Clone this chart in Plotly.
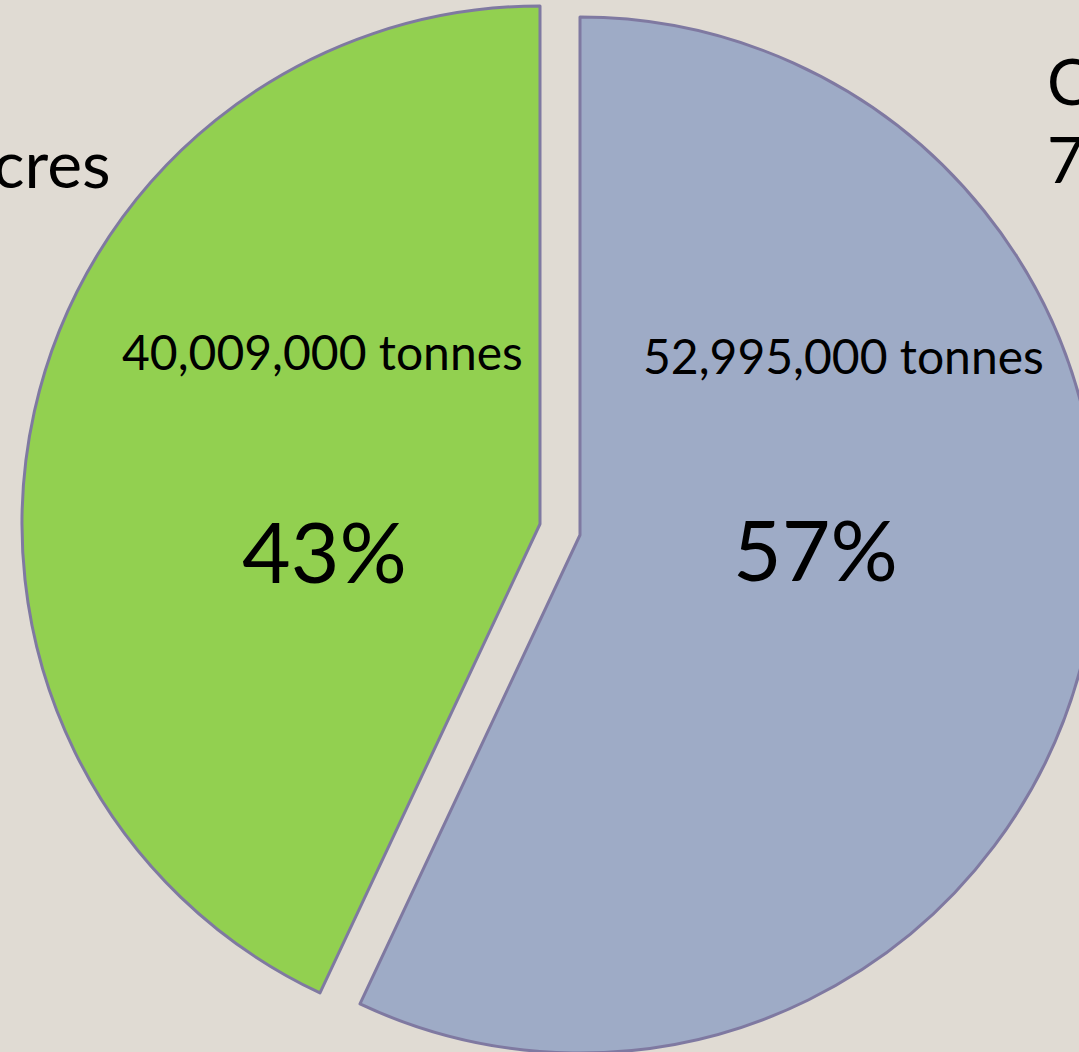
import plotly.graph_objects as go

# ── Data ──────────────────────────────────────────────────────────────────────
labels = ["Blue share", "Green share"]
values = [52995000, 40009000]
unit = "tonnes"
edge_labels_left = ["cres"]
edge_labels_right = ["C", "7"]

# ── Style ─────────────────────────────────────────────────────────────────────
W, H = 1100, 1056
BG = "#e0dbd3"
BORDER = "#7f79a1"
SLICE_COLORS = ["#9eabc6", "#92d050"]
CLEAR = "rgba(0,0,0,0)"
FONT = "Lato, 'Open Sans', sans-serif"


def px_x(x):
    return x / W


def px_y(y):
    return 1 - y / H


def domain(cx, cy, r):
    return dict(x=[px_x(cx - r), px_x(cx + r)], y=[px_y(cy + r), px_y(cy - r)])


# each slice is drawn by its own pie so it can sit slightly apart (exploded)
centers = [(580, 535), (540, 524)]
R = 518

fig = go.Figure()
for i, (cx, cy) in enumerate(centers):
    colors = [SLICE_COLORS[j] if j == i else CLEAR for j in range(len(values))]
    lines = [BORDER if j == i else CLEAR for j in range(len(values))]
    fig.add_trace(go.Pie(
        labels=labels, values=values,
        sort=False, direction="clockwise", rotation=0,
        marker=dict(colors=colors, line=dict(color=lines, width=3)),
        textinfo="none", hoverinfo="skip",
        domain=domain(cx, cy, R),
        showlegend=False,
    ))

total = sum(values)
pcts = [round(v / total * 100) for v in values]

# in-slice labels: (tonnes center, pct center)
label_pos = [((843, 355), (815, 548)), ((322, 352), (324, 550))]
anns = []
for v, p, ((tx, ty), (qx, qy)) in zip(values, pcts, label_pos):
    anns.append(dict(x=px_x(tx), y=px_y(ty), text=f"{v:,} {unit}", xanchor="center",
                     font=dict(size=48, family=FONT, color="black")))
    anns.append(dict(x=px_x(qx), y=px_y(qy), text=f"{p}%", xanchor="center",
                     font=dict(size=84, family=FONT, color="black")))

# outside labels, cut off by the frame
anns.append(dict(x=px_x(113), y=px_y(163), text=edge_labels_left[0], xanchor="right",
                 font=dict(size=66, family=FONT, color="black")))
for t, yy in zip(edge_labels_right, [80, 158]):
    anns.append(dict(x=px_x(1045), y=px_y(yy), text=t, xanchor="left",
                     font=dict(size=64, family=FONT, color="black")))

for a in anns:
    a.update(xref="paper", yref="paper", yanchor="middle", showarrow=False)

fig.update_layout(
    width=W, height=H,
    margin=dict(l=0, r=0, t=0, b=0),
    paper_bgcolor=BG,
    plot_bgcolor=BG,
    annotations=anns,
)

# drop the browser's default page margin so the chart starts at the corner
fig.write_html("out.html", config={"displayModeBar": False},
               post_script="document.body.style.margin = '0';")
